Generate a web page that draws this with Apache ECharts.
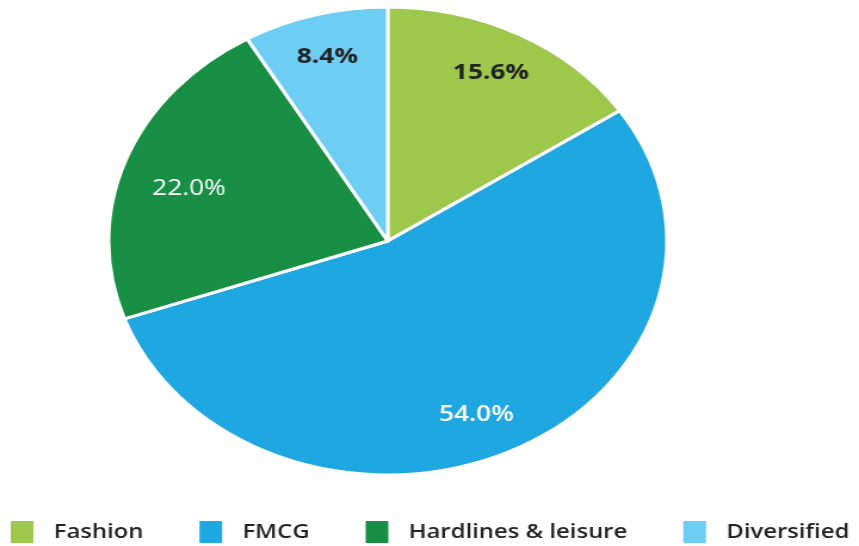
<!DOCTYPE html>
<html>
<head>
<meta charset="utf-8">
<script src="https://cdn.jsdelivr.net/npm/echarts@6/dist/echarts.min.js"></script>
<style>
html,body{margin:0;padding:0;background:#fff;overflow:hidden;}
#wrap{width:859px;height:546px;overflow:hidden;}
#chart{width:720px;height:546px;transform:scaleX(1.1931);transform-origin:0 0;}
</style>
</head>
<body>
<div id="wrap"><div id="chart"></div></div>
<script>
const categories = ['Fashion', 'FMCG', 'Hardlines & leisure', 'Diversified'];
const shares = [15.6, 54.0, 22.0, 8.4];
const colors = ['#9dc84b', '#1ea7e0', '#188f45', '#6dcdf3'];
const labelColors = ['#222222', '#ffffff', '#ffffff', '#222222'];
const labelWeights = ['bold', 600, 'normal', 'bold'];
const labelOffsets = [[-3, 0], [-11, 4], [12, 13], [-1, -1]];

const chart = echarts.init(document.getElementById('chart'), null, {renderer: 'canvas'});
const center = [325, 241];
const R = 234;

const mainData = categories.map((c, i) => ({
  name: c, value: shares[i], itemStyle: {color: colors[i]}
}));
const labelData = categories.map((c, i) => ({
  name: c, value: shares[i],
  label: {color: labelColors[i], fontWeight: labelWeights[i], offset: labelOffsets[i]}
}));

chart.setOption({
  animation: false,
  legend: {
    data: categories,
    top: 516,
    left: 4,
    itemWidth: 19,
    itemHeight: 22,
    itemGap: 47,
    icon: 'rect',
    symbolKeepAspect: false,
    selectedMode: false,
    itemStyle: {borderWidth: 0, borderColor: 'rgba(0,0,0,0)'},
    textStyle: {
      fontFamily: 'Open Sans',
      fontSize: 20,
      fontWeight: 600,
      color: '#222',
      padding: [0, 0, 0, 12]
    }
  },
  series: [
    {
      type: 'pie',
      center: center,
      radius: [0, R],
      startAngle: 90,
      clockwise: true,
      silent: true,
      label: {show: false},
      labelLine: {show: false},
      itemStyle: {borderColor: '#ffffff', borderWidth: 3},
      data: mainData
    },
    {
      type: 'pie',
      center: center,
      radius: [R * 0.6, R],
      startAngle: 90,
      clockwise: true,
      silent: true,
      legendHoverLink: false,
      itemStyle: {color: 'rgba(0,0,0,0)', borderWidth: 0},
      label: {
        show: true,
        position: 'inside',
        fontFamily: 'Open Sans',
        fontSize: 22,
        formatter: p => p.value.toFixed(1) + '%'
      },
      labelLine: {show: false},
      data: labelData
    }
  ]
});
</script>
</body>
</html>
